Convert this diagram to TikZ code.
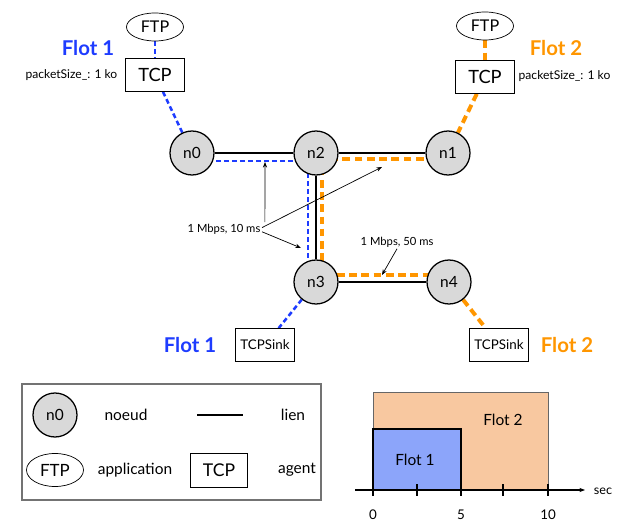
\documentclass[tikz,border=0pt]{standalone}
\usepackage{fontspec}
\setmainfont{Lato}
\usetikzlibrary{arrows.meta,positioning,shapes.geometric,backgrounds}
\definecolor{flotA}{RGB}{30,60,255}
\definecolor{flotB}{RGB}{255,150,0}
\definecolor{ndgray}{RGB}{217,217,217}
\definecolor{peach}{RGB}{248,200,160}
\definecolor{lblue}{RGB}{140,165,250}

\begin{document}
\begin{tikzpicture}[x=0.025cm,y=-0.025cm,>={Stealth[length=4pt,width=3pt]},
nd/.style={circle,draw,line width=0.9pt,fill=ndgray,minimum size=1.1cm,inner sep=0pt,font=\fontsize{11}{12}\selectfont},
app/.style={ellipse,draw,line width=0.5pt,fill=white,minimum width=1.425cm,minimum height=0.7cm,inner sep=0pt,font=\fontsize{11.5}{12}\selectfont},
agt/.style={draw,line width=0.5pt,fill=white,minimum width=1.475cm,minimum height=0.825cm,inner sep=0pt,font=\fontsize{13}{14}\selectfont},
sink/.style={agt,font=\fontsize{9.5}{10}\selectfont},
lnk/.style={line width=1.6pt},
fla/.style={flotA,line width=1.5pt,dash pattern=on 3.5pt off 2.2pt},
flb/.style={flotB,line width=2.8pt,dash pattern=on 5.5pt off 3.2pt},
tag/.style={font=\fontsize{14.5}{15}\selectfont\bfseries},
note/.style={font=\fontsize{8}{9}\selectfont,inner sep=1pt},
leg/.style={font=\fontsize{11}{12}\selectfont}]
\useasboundingbox (0,0) rectangle (617,523);

% network
\node[nd] (n0) at (192,153) {n0};
\node[nd] (n2) at (316,153) {n2};
\node[nd] (n1) at (448,153) {n1};
\node[nd] (n3) at (316,282) {n3};
\node[nd] (n4) at (449,282) {n4};

\node[app] (ftpa) at (155,27) {FTP};
\node[agt] (tcpa) at (155,75) {TCP};
\node[app] (ftpb) at (485,26) {FTP};
\node[agt] (tcpb) at (485,77) {TCP};
\node[sink] (sinka) at (265,345) {TCPSink};
\node[sink] (sinkb) at (499,345) {TCPSink};

\node[tag,text=flotA] (ta) at (88,48) {Flot 1};
\node[tag,text=flotB] (tb) at (556,48) {Flot 2};
\node[tag,text=flotA] (tc) at (190,345) {Flot 1};
\node[tag,text=flotB] (td) at (567,345) {Flot 2};
\node[note,font=\fontsize{8.6}{9}\selectfont,anchor=east] (pka) at (119,75) {packetSize\_: 1 ko};
\node[note,font=\fontsize{8.6}{9}\selectfont,anchor=west] (pkb) at (517,76) {packetSize\_: 1 ko};

\begin{scope}[on background layer]
\draw[lnk] (n0)--(n2)--(n1);
\draw[lnk] (n2)--(n3)--(n4);
\draw[fla] ([yshift=-0.2cm]n0.center) -| ([xshift=-0.2cm]n3.center);
\draw[flb] ([yshift=-0.15cm]n1.center) -| ([xshift=0.15cm,yshift=0.175cm]n3.center) -- ([yshift=0.175cm]n4.center);
\draw[fla,line width=1.8pt] (ftpa)--(tcpa);
\draw[fla,line width=1.8pt] (tcpa)--(n0);
\draw[fla,line width=1.8pt] (n3)--(sinka);
\draw[flb] (ftpb)--(tcpb);
\draw[flb] (tcpb)--(n1);
\draw[flb] (n4)--(sinkb);
\end{scope}

% link labels
\node[note] (lbla) at (224,229) {1 Mbps, 10 ms};
\node[note] (lblb) at (397,242) {1 Mbps, 50 ms};
\coordinate (la1) at (265,162);
\coordinate (la2) at (382,167);
\coordinate (la3) at (301,248);
\coordinate (lb1) at (382,275);
\draw[->,line width=0.5pt] ([xshift=2pt]lbla.north east) -- (la1);
\draw[->,line width=0.5pt] ([yshift=1pt]lbla.east) -- (la2);
\draw[->,line width=0.5pt] ([yshift=-2pt]lbla.east) -- (la3);
\draw[->,line width=0.5pt] (lblb.south) -- (lb1);

% legend
\draw[black!55,line width=0.8pt] (22,384) rectangle (321,500);
\node[nd] (ln0) at (55,415) {n0};
\node[leg] (lnd) at (126,415) {noeud};
\coordinate (lla) at (197,415);
\coordinate (llb) at (243,415);
\draw[lnk] (lla)--(llb);
\node[leg] (llk) at (293,415) {lien};
\node[app,minimum height=0.825cm,font=\fontsize{12}{13}\selectfont] (lftp) at (55,470) {FTP};
\node[leg] (lap) at (135,470) {application};
\node[agt,minimum width=1.425cm,minimum height=0.85cm,font=\fontsize{12.5}{13}\selectfont] (ltcp) at (219,470) {TCP};
\node[leg] (lag) at (297,470) {agent};

% time line
\draw[black!60,line width=0.6pt,fill=peach] (373,392) rectangle (548,490);
\draw[black,line width=0.8pt,fill=lblue] (373,429) rectangle (461,490);
\node[leg] (cfb) at (503,420) {Flot 2};
\node[leg] (cfa) at (415,460) {Flot 1};
\coordinate (ax0) at (355,490);
\coordinate (ax1) at (585,490);
\draw[->,line width=0.8pt] (ax0)--(ax1);
\foreach \t in {373,417,461,503,548}
  \draw[line width=0.8pt] (\t,484)--(\t,496);
\node[note,font=\fontsize{9}{10}\selectfont] (sec) at (603,491) {sec};
\node[note,font=\fontsize{9.5}{10}\selectfont] (t0) at (373,515) {0};
\node[note,font=\fontsize{9.5}{10}\selectfont] (t5) at (461,515) {5};
\node[note,font=\fontsize{9.5}{10}\selectfont] (t10) at (548,515) {10};
\end{tikzpicture}
\end{document}
